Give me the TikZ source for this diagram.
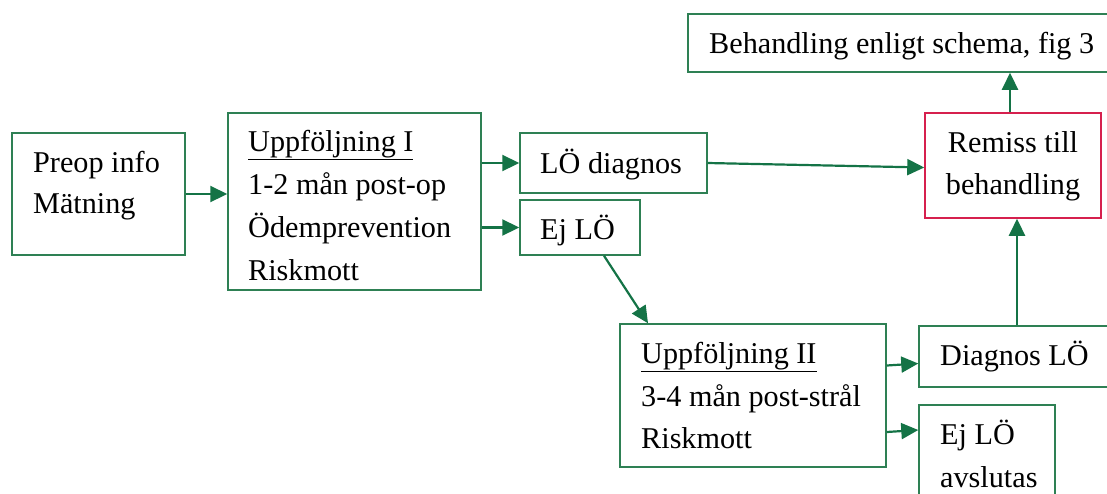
\documentclass[tikz,border=0pt]{standalone}
\usepackage{fontspec}
\setmainfont{Liberation Serif}
\usetikzlibrary{arrows.meta}
\definecolor{boxgreen}{RGB}{46,128,84}
\definecolor{arrgreen}{RGB}{20,115,70}
\definecolor{remred}{RGB}{214,32,78}
\tikzset{
  box/.style={draw=boxgreen, line width=1.5pt, rectangle, inner sep=0pt},
  redbox/.style={draw=remred, line width=1.5pt, rectangle, inner sep=0pt},
  txt/.style={anchor=base west, inner sep=0pt, font=\fontsize{30.2}{40}\selectfont},
  ctxt/.style={anchor=base, inner sep=0pt, font=\fontsize{30.2}{40}\selectfont},
  conn/.style={draw=arrgreen, line width=2.2pt, -{Triangle[length=17pt,width=16pt]}}
}
\begin{document}
\begin{tikzpicture}[x=1pt,y=-1pt]
\useasboundingbox (0,0) rectangle (1107,493);
% boxes
\node[box, minimum width=173pt, minimum height=122pt] (pre) at (98.5,194) {};
\node[box, minimum width=253pt, minimum height=177pt] (u1) at (354.5,201.5) {};
\node[box, minimum width=187pt, minimum height=60pt] (lod) at (613.5,163) {};
\node[box, minimum width=120pt, minimum height=55pt] (ejlo) at (580,227.5) {};
\node[redbox, minimum width=176pt, minimum height=105pt] (rem) at (1013,165.5) {};
\node[box, minimum width=440pt, minimum height=58pt] (beh) at (908,43) {};
\node[box, minimum width=266pt, minimum height=143pt] (u2) at (753,395.5) {};
\node[box, minimum width=220pt, minimum height=61pt] (dlo) at (1029,356.5) {};
\node[box, minimum width=136pt, minimum height=120pt] (ejav) at (987,465) {};
% texts
\node[txt] (t1) at (33,172) {Preop info};
\node[txt] (t2) at (33,213) {Mätning};
\node[txt] (t3) at (248,151) {\underline{Uppföljning I}};
\node[txt] (t4) at (248,194) {1-2 mån post-op};
\node[txt] (t5) at (248,237) {Ödemprevention};
\node[txt] (t6) at (248,280) {Riskmott};
\node[txt] (t7) at (540,173) {LÖ diagnos};
\node[txt] (t8) at (540,239) {Ej LÖ};
\node[ctxt] (t9) at (1013,152) {Remiss till};
\node[ctxt] (t10) at (1013,194) {behandling};
\node[txt] (t11) at (709,53) {Behandling enligt schema, fig 3};
\node[txt] (t12) at (641,363) {\underline{Uppföljning II}};
\node[txt] (t13) at (641,406) {3-4 mån post-strål};
\node[txt] (t14) at (641,448) {Riskmott};
\node[txt] (t15) at (940,365) {Diagnos LÖ};
\node[txt] (t16) at (940,444) {Ej LÖ};
\node[txt] (t17) at (940,487) {avslutas};
% connectors
\draw[conn] (pre.east) -- (u1.west |- pre.east);
\draw[conn] (u1.east |- lod.west) -- (lod.west);
\draw[conn] (u1.east |- ejlo.west) -- (ejlo.west);
\draw[conn] (lod.east) -- ([yshift=-2pt]rem.west);
\draw[conn] ([xshift=24pt]ejlo.south) -- ([xshift=-105pt]u2.north);
\draw[conn] ([xshift=-3pt]rem.north) -- ([xshift=-3pt]rem.north |- beh.south);
\draw[conn] ([xshift=-12pt]dlo.north) -- ([xshift=-12pt]dlo.north |- rem.south);
\draw[conn] ([yshift=30pt]u2.east) -- ([yshift=32pt]u2.east -| dlo.west);
\draw[conn] ([yshift=-36.5pt]u2.east) -- ([yshift=-34.5pt]u2.east -| ejav.west);
\end{tikzpicture}
\end{document}
